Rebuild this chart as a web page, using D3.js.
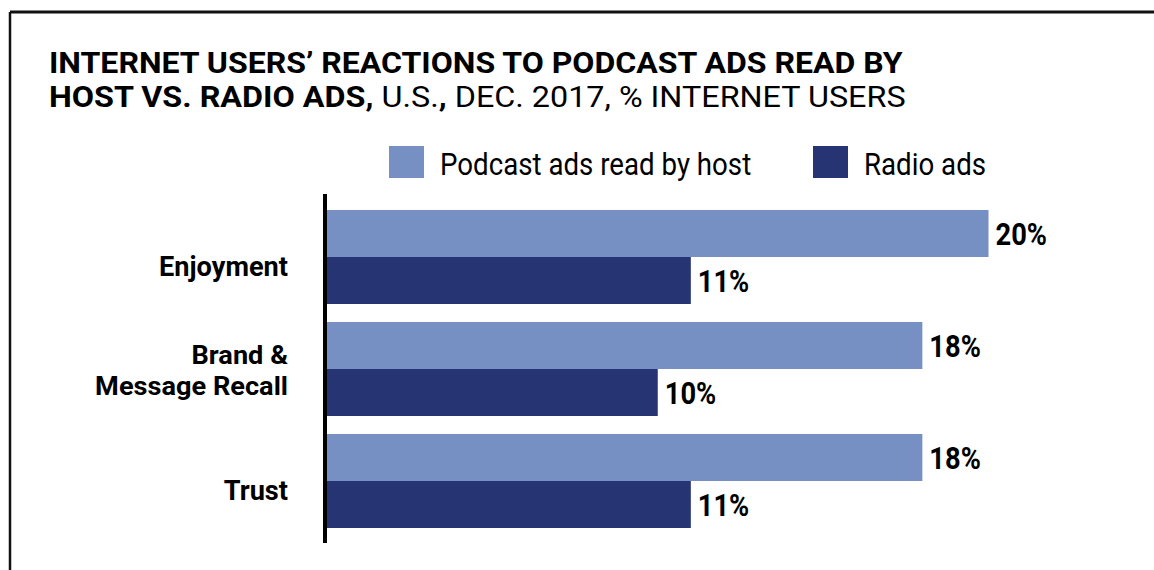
<!DOCTYPE html>
<html>
<head>
<meta charset="utf-8">
<script src="https://cdn.jsdelivr.net/npm/d3@7"></script>
<style>
  html, body { margin: 0; padding: 0; background: #fff; }
  svg { display: block; }
  text { font-family: Roboto, "Noto Sans", sans-serif; fill: #000; }
</style>
</head>
<body>
<svg id="chart" width="1154" height="570"></svg>
<script>
// Survey results: share of US internet users, Dec. 2017
const categories = ["Enjoyment", "Brand &\nMessage Recall", "Trust"];
const seriesNames = ["Podcast ads read by host", "Radio ads"];
const podcastValues = [20, 18, 18];
const radioValues = [11, 10, 11];
const seriesColors = ["#7790c3", "#273474"];

const rows = categories.map((c, i) => ({
  category: c,
  values: [
    { series: seriesNames[0], value: podcastValues[i] },
    { series: seriesNames[1], value: radioValues[i] }
  ]
}));

const svg = d3.select("#chart");
const W = 1154, H = 570;

// horizontal squeeze/stretch of text around its anchor point
function scaledGroup(parent, x, y, k) {
  return parent.append("g").attr("transform", `translate(${x},${y}) scale(${k},1)`);
}

// frame
svg.append("line").attr("x1", 10).attr("x2", W).attr("y1", 12).attr("y2", 12)
  .attr("stroke", "#111").attr("stroke-width", 3);
svg.append("line").attr("x1", 10).attr("x2", 10).attr("y1", 12).attr("y2", H)
  .attr("stroke", "#111").attr("stroke-width", 2.5);

// title
const TITLE_K = 1.105;
scaledGroup(svg, 49, 73, TITLE_K).append("text")
  .attr("font-size", 29).attr("font-weight", 700)
  .text("INTERNET USERS\u2019 REACTIONS TO PODCAST ADS READ BY");
const title2 = scaledGroup(svg, 49, 107, 1.115).append("text").attr("font-size", 29);
title2.append("tspan").attr("font-weight", 700).text("HOST VS. RADIO ADS,");
title2.append("tspan").attr("font-weight", 400).text(" U.S.");
title2.append("tspan").attr("font-weight", 700).text(",");
title2.append("tspan").attr("font-weight", 400).text(" DEC. 2017, % INTERNET USERS");

// scales
const x = d3.scaleLinear().domain([0, 20]).range([327, 988.5]);
const y = d3.scaleBand().domain(categories).range([210, 528]).paddingInner(18 / 112).paddingOuter(0);
const ySub = d3.scaleBand().domain(seriesNames).range([0, y.bandwidth()]);
const color = d3.scaleOrdinal().domain(seriesNames).range(seriesColors);

// legend
const legendX = [389, 813];
seriesNames.forEach((s, i) => {
  svg.append("rect").attr("x", legendX[i]).attr("y", 146).attr("width", 35).attr("height", 32)
    .attr("fill", color(s));
  scaledGroup(svg, legendX[i] + 51, 175, 0.865).append("text")
    .attr("font-size", 32).text(s);
});

// bars
const groups = svg.append("g").selectAll("g").data(rows).join("g")
  .attr("transform", d => `translate(0,${y(d.category)})`);

groups.selectAll("rect").data(d => d.values).join("rect")
  .attr("x", x(0))
  .attr("y", d => ySub(d.series))
  .attr("width", d => x(d.value) - x(0))
  .attr("height", ySub.bandwidth())
  .attr("fill", d => color(d.series));

// value labels
groups.each(function (d) {
  const g = d3.select(this);
  d.values.forEach(v => {
    scaledGroup(g, x(v.value) + 7, ySub(v.series) + ySub.bandwidth() / 2 + 11, 0.88)
      .append("text").attr("font-size", 31).attr("font-weight", 700)
      .text(v.value + "%");
  });
});

// category labels; two-line names use a slightly smaller face on a 31px leading
groups.each(function (d) {
  const lines = d.category.split("\n");
  const mid = y.bandwidth() / 2;
  const multi = lines.length > 1;
  const fs = multi ? 26 : 28;
  const lh = 31;
  const first = multi ? mid - 5.5 : mid + 19;
  lines.forEach((ln, j) => {
    scaledGroup(d3.select(this), 288, first + j * lh, 0.97 * 28 / fs).append("text")
      .attr("text-anchor", "end").attr("font-size", fs).attr("font-weight", 700)
      .text(ln);
  });
});

// vertical axis line
svg.append("line").attr("x1", 325).attr("x2", 325).attr("y1", 194).attr("y2", 543)
  .attr("stroke", "#000").attr("stroke-width", 4);
</script>
</body>
</html>
